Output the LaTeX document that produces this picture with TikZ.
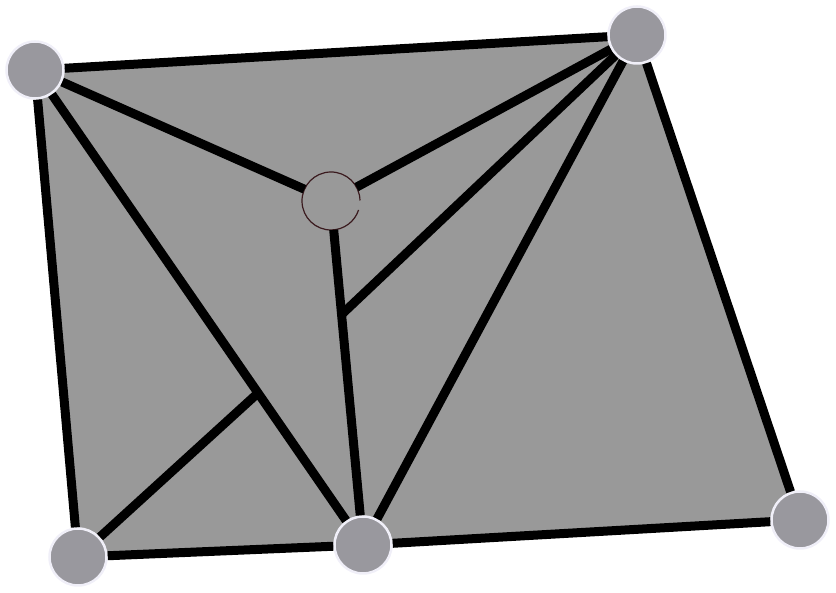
\documentclass[tikz,border=0pt]{standalone}
\usepackage{tikz}
\usetikzlibrary{calc}

\definecolor{facegray}{HTML}{999999}
\definecolor{vertgray}{HTML}{99989E}
\definecolor{halo}{HTML}{F0EFF8}
\definecolor{ringbrown}{HTML}{3A1A1E}

\begin{document}
\begin{tikzpicture}[x=1pt,y=1pt]
\tikzstyle{every node}+=[inner sep=0pt]
\tikzstyle{vert}=[circle,minimum size=57pt,fill=vertgray,draw=halo,line width=2.5pt]
\tikzstyle{edge}=[black,line width=9pt]
\useasboundingbox (0,0) rectangle (836,593);
\coordinate (ptl) at (35,523);
\coordinate (ptr) at (637,558);
\coordinate (pbr) at (800,73);
\coordinate (pbm) at (363,48);
\coordinate (pbl) at (78,36);
\fill [facegray] (ptl) -- (ptr) -- (pbr) -- (pbm) -- (pbl) -- cycle;
\node [vert] (tl) at (ptl) {};
\node [vert] (tr) at (ptr) {};
\node [vert] (br) at (pbr) {};
\node [vert] (bm) at (pbm) {};
\node [vert] (bl) at (pbl) {};
\node [circle,minimum size=58pt,outer sep=0pt,fill=facegray] (ctr) at (331,392) {};
\draw [ringbrown,line width=1.2pt] (ctr.1) arc[start angle=1,end angle=342,radius=29pt];
\coordinate (j1) at ($(ctr)!0.33!(bm)$);
\coordinate (j2) at ($(tl)!0.68!(bm)$);
\draw [edge] (tl) -- (tr);
\draw [edge] (tr) -- (br);
\draw [edge] (br) -- (bm);
\draw [edge] (bm) -- (bl);
\draw [edge] (bl) -- (tl);
\draw [edge] (tl) -- (ctr);
\draw [edge] (ctr) -- (tr);
\draw [edge] (tl) -- (bm);
\draw [edge] (ctr) -- (bm);
\draw [edge] (tr) -- (bm);
\draw [edge] (tr) -- (j1);
\draw [edge] (bl) -- (j2);
\end{tikzpicture}
\end{document}
